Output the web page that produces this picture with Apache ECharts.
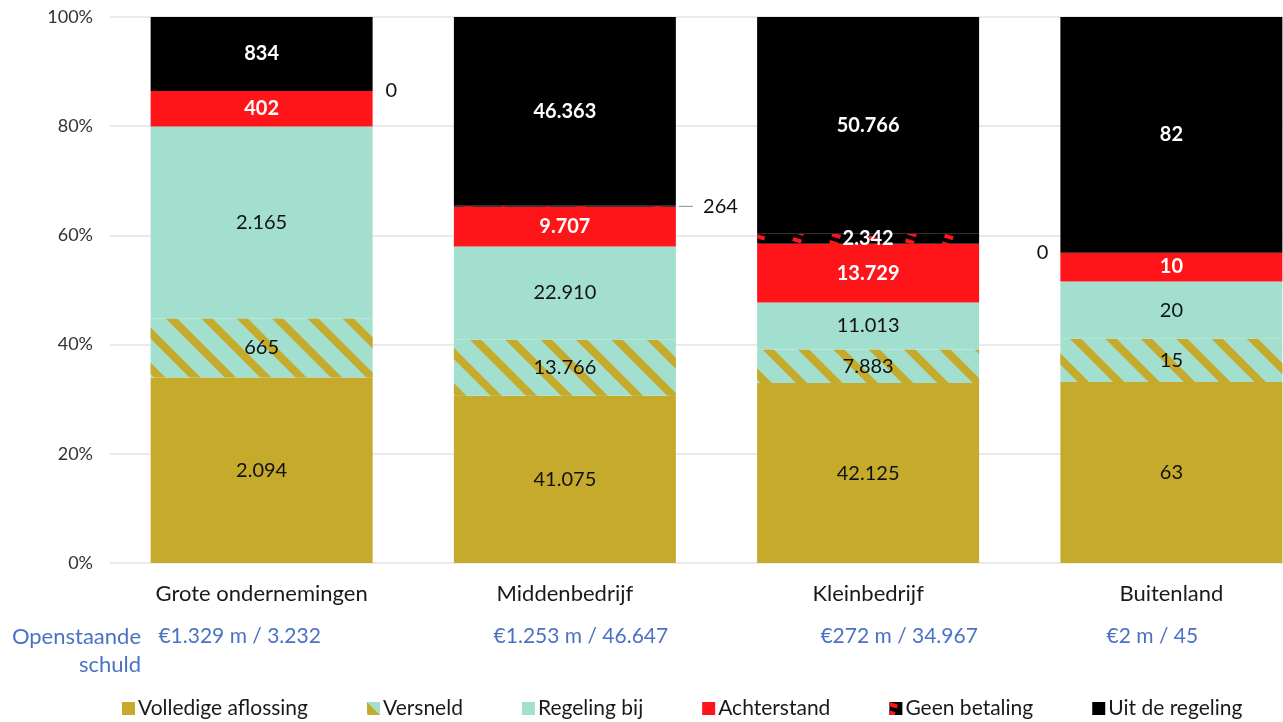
<!DOCTYPE html>
<html>
<head>
<meta charset="utf-8">
<script src="https://cdn.jsdelivr.net/npm/echarts@6/dist/echarts.min.js"></script>
<style>
  html, body { margin: 0; padding: 0; background: #fff; }
  #chart { width: 1283px; height: 722px; }
</style>
</head>
<body>
<div id="chart"></div>
<script>
// ---- data ----
const categories = ['Grote ondernemingen', 'Middenbedrijf', 'Kleinbedrijf', 'Buitenland'];
const seriesNames = ['Volledige aflossing', 'Versneld', 'Regeling bij', 'Achterstand', 'Geen betaling', 'Uit de regeling'];
const volledigeAflossing = [2094, 41075, 42125, 63];
const versneld = [665, 13766, 7883, 15];
const regelingBij = [2165, 22910, 11013, 20];
const achterstand = [402, 9707, 13729, 10];
const geenBetaling = [0, 264, 2342, 0];
const uitDeRegeling = [834, 46363, 50766, 82];
const openstaandeSchuld = ['€1.329 m / 3.232', '€1.253 m / 46.647', '€272 m / 34.967', '€2 m / 45'];
const yTicks = [0, 20, 40, 60, 80, 100];

// ---- styling ----
const FONT = 'Lato, "Noto Sans", sans-serif';
const GOLD = '#C5AA2B';
const MINT = '#A3DFCE';
const RED = '#FF1519';
const BLACK = '#000000';
const BLUE = '#4A72C4';

const raw = [volledigeAflossing, versneld, regelingBij, achterstand, geenBetaling, uitDeRegeling];
const totals = categories.map((_, i) => raw.reduce((s, arr) => s + arr[i], 0));
const fmt = n => String(n).replace(/\B(?=(\d{3})+(?!\d))/g, '.');

const colors = [GOLD, MINT, MINT, RED, BLACK, BLACK];
const labelColors = ['#111', '#111', '#111', '#fff', '#fff', '#fff'];
const labelWeights = ['normal', 'normal', 'normal', 'bold', 'bold', 'bold'];
const decals = [
  null,
  { symbol: 'rect', color: GOLD, dashArrayX: [1, 0], dashArrayY: [8, 17], rotation: Math.PI / 4, symbolSize: 1 },
  null, null,
  { symbol: 'rect', color: RED, dashArrayX: [[9, 27]], dashArrayY: [4, 4], rotation: 0.3, symbolSize: 1 },
  null
];
// per-item label placement for "Geen betaling"
const geenLabelStyle = [
  { position: 'right', distance: 13, color: '#111', fontWeight: 'normal' },
  { position: 'right', distance: 3, color: '#111', fontWeight: 'normal', withLine: true },
  { position: 'inside', color: '#fff', fontWeight: 'bold' },
  { position: 'left', distance: 12, color: '#111', fontWeight: 'normal' }
];
const blueOffsets = [-22, 16, 31, -19];

const series = seriesNames.map((name, si) => {
  const data = raw[si].map((v, ci) => {
    const item = { value: v / totals[ci] * 100, raw: v };
    if (si === 4) {
      const st = geenLabelStyle[ci];
      item.label = {
        position: st.position,
        distance: st.distance,
        color: st.color,
        fontWeight: st.fontWeight,
        formatter: st.withLine ? '{ln|}  ' + fmt(v) : fmt(v)
      };
    }
    return item;
  });
  const s = {
    name: name,
    type: 'bar',
    stack: 'total',
    barCategoryGap: '26.8%',
    itemStyle: { color: colors[si] },
    label: {
      show: true,
      position: 'inside',
      color: labelColors[si],
      fontWeight: labelWeights[si],
      fontFamily: FONT,
      fontSize: 20,
      formatter: p => fmt(p.data.raw),
      rich: { ln: { width: 14, height: 1, backgroundColor: '#8c8c8c' } }
    },
    emphasis: { disabled: true },
    data: data
  };
  if (decals[si]) s.itemStyle.decal = decals[si];
  return s;
});

const chart = echarts.init(document.getElementById('chart'), null, { renderer: 'canvas' });
chart.setOption({
  animation: false,
  backgroundColor: '#fff',
  textStyle: { fontFamily: FONT },
  grid: { left: 110, width: 1213, top: 17, height: 546, containLabel: false, outerBoundsMode: 'none' },
  legend: {
    data: seriesNames,
    left: 117,
    top: 693,
    icon: 'rect',
    itemWidth: 13,
    itemHeight: 13,
    itemGap: 59,
    textStyle: { fontSize: 21, color: '#1a1a1a', fontFamily: FONT, padding: [0, 0, 0, -2] },
    selectedMode: false
  },
  xAxis: {
    type: 'category',
    data: categories,
    axisLine: { show: false },
    axisTick: { show: false },
    axisLabel: { fontSize: 22, color: '#1a1a1a', margin: 20, fontFamily: FONT }
  },
  yAxis: {
    type: 'value',
    min: 0,
    max: 100,
    interval: 20,
    axisLabel: {
      fontSize: 18, color: '#333', margin: 17, fontFamily: FONT,
      formatter: v => (yTicks.indexOf(v) >= 0 ? v + '%' : '')
    },
    axisLine: { show: false },
    axisTick: { show: false },
    splitLine: { lineStyle: { color: '#e3e3e3', width: 1.5 } }
  },
  series: series
});

// blue "Openstaande schuld" texts beneath categories
const graphics = [{
  type: 'text',
  x: 141,
  y: 623,
  style: { text: 'Openstaande\nschuld', fill: BLUE, font: '22px ' + FONT, align: 'right', lineHeight: 28 }
}];
categories.forEach((c, i) => {
  const x = chart.convertToPixel({ xAxisIndex: 0 }, c) + blueOffsets[i];
  graphics.push({
    type: 'text',
    x: x,
    y: 636,
    style: { text: openstaandeSchuld[i], fill: BLUE, font: '21px ' + FONT, align: 'center', verticalAlign: 'middle' }
  });
});
chart.setOption({ graphic: graphics });
</script>
</body>
</html>
